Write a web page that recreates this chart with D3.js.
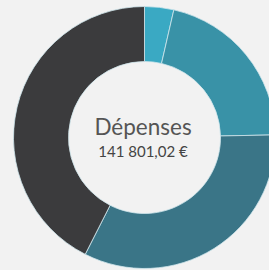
<!DOCTYPE html>
<html>
<head>
<meta charset="utf-8">
<script src="https://cdn.jsdelivr.net/npm/d3@7"></script>
<style>
  html, body { margin:0; padding:0; background:#f2f2f2; overflow:hidden; }
  svg { display:block; }
</style>
</head>
<body>
<svg id="chart"></svg>
<script>
// spending categories (clockwise from 12 o'clock)
const categories = ['Catégorie A', 'Catégorie B', 'Catégorie C', 'Catégorie D'];
const values = [5100, 29900, 46500, 60301.02];
const colors = ['#3aa9c3', '#3992a7', '#3a7587', '#3b3b3d'];
const title = 'Dépenses';
const totalLabel = '141 801,02 €';

const W = 269, H = 270;
const cx = 144.5, cy = 137.5;
const outerR = 131, innerR = 76;

const svg = d3.select('#chart').attr('width', W).attr('height', H);
const g = svg.append('g').attr('transform', `translate(${cx},${cy})`);

const pie = d3.pie().sort(null).value(d => d.value);
const arc = d3.arc().innerRadius(innerR).outerRadius(outerR);

const data = categories.map((c, i) => ({ name: c, value: values[i], color: colors[i] }));

g.selectAll('path.slice')
  .data(pie(data))
  .enter().append('path')
  .attr('class', 'slice')
  .attr('d', arc)
  .attr('fill', d => d.data.color)
  .attr('stroke', '#cfe6ec')
  .attr('stroke-width', 0.8);

// center labels
g.append('text')
  .attr('text-anchor', 'middle')
  .attr('x', -1.5)
  .attr('y', -3)
  .attr('font-family', 'Lato, "Open Sans", sans-serif')
  .attr('font-size', 22.5)
  .attr('fill', '#555')
  .text(title);

g.append('text')
  .attr('text-anchor', 'middle')
  .attr('x', -1.5)
  .attr('y', 19.5)
  .attr('font-family', 'Lato, "Open Sans", sans-serif')
  .attr('font-size', 15)
  .attr('fill', '#444')
  .text(totalLabel);
</script>
</body>
</html>
